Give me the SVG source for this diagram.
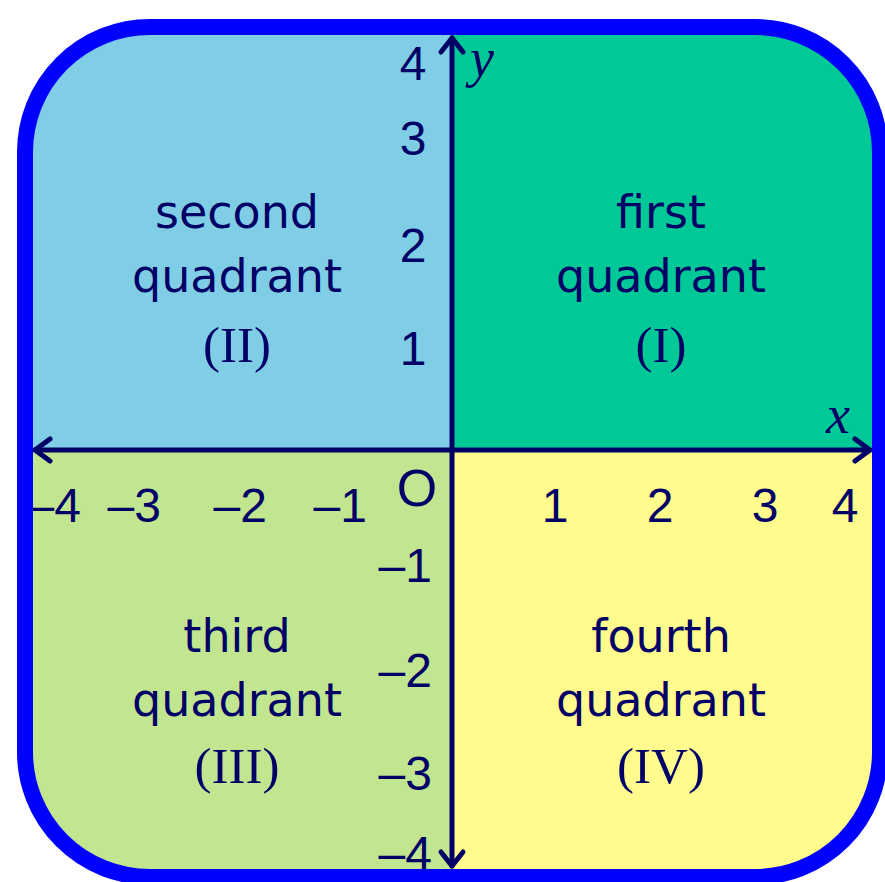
<svg xmlns="http://www.w3.org/2000/svg" width="885" height="882" viewBox="0 0 885 882">
<style>
.lbl{font-family:"DejaVu Sans","Liberation Sans",sans-serif;font-size:46px;fill:#000066;text-anchor:middle}
.rom{font-family:"Liberation Serif","Times New Roman",serif;font-size:51px;fill:#000066;text-anchor:middle}
.tk{font-family:"Liberation Sans",Arial,sans-serif;font-size:48px;fill:#000066}
.var{font-family:"Liberation Serif","Times New Roman",serif;font-style:italic;font-size:54px;fill:#000066}
.ax{stroke:#000066;stroke-width:5;fill:none;stroke-linecap:round;stroke-linejoin:round}
</style>
<defs>
<clipPath id="clip"><rect x="25" y="27" width="855" height="850" rx="125" ry="125"/></clipPath>
</defs>
<rect width="885" height="882" fill="#ffffff"/>
<g id="quadrants" clip-path="url(#clip)">
<rect x="0" y="0" width="452" height="450" fill="#7fcee5"/>
<rect x="452" y="0" width="433" height="450" fill="#00c896"/>
<rect x="0" y="450" width="452" height="432" fill="#c2e690"/>
<rect x="452" y="450" width="433" height="432" fill="#fffb8c"/>
<g id="ticks">
<text class="tk" x="413" y="80" text-anchor="middle">4</text>
<text class="tk" x="413" y="155" text-anchor="middle">3</text>
<text class="tk" x="413" y="262" text-anchor="middle">2</text>
<text class="tk" x="413" y="365" text-anchor="middle">1</text>
<text class="tk" x="432" y="582" text-anchor="end">–1</text>
<text class="tk" x="432" y="687" text-anchor="end">–2</text>
<text class="tk" x="432" y="790" text-anchor="end">–3</text>
<text class="tk" x="432" y="870" text-anchor="end">–4</text>
<text class="tk" x="81" y="522" text-anchor="end">–4</text>
<text class="tk" x="161" y="522" text-anchor="end">–3</text>
<text class="tk" x="267" y="522" text-anchor="end">–2</text>
<text class="tk" x="367" y="522" text-anchor="end">–1</text>
<text class="tk" x="555" y="522" text-anchor="middle">1</text>
<text class="tk" x="660" y="522" text-anchor="middle">2</text>
<text class="tk" x="765" y="522" text-anchor="middle">3</text>
<text class="tk" x="845" y="522" text-anchor="middle">4</text>
<text class="tk" x="417" y="506" text-anchor="middle" style="font-size:52px">O</text>
</g>
</g>
<g id="connectors">
<line class="ax" x1="452" y1="38" x2="452" y2="866"/>
<polyline class="ax" points="441,52 452,38 463,52"/>
<polyline class="ax" points="441,852 452,866 463,852"/>
<line class="ax" x1="35" y1="450" x2="870" y2="450"/>
<polyline class="ax" points="50,439 35,450 50,461"/>
<polyline class="ax" points="855,439 870,450 855,461"/>
</g>
<text class="var" x="470" y="76">y</text>
<text class="var" x="826" y="433">x</text>
<g id="q2">
<text class="lbl" x="237" y="228">second</text>
<text class="lbl" x="237" y="292">quadrant</text>
<text class="rom" x="237" y="362">(II)</text>
</g>
<g id="q1">
<text class="lbl" x="661" y="228">first</text>
<text class="lbl" x="661" y="292">quadrant</text>
<text class="rom" x="661" y="362">(I)</text>
</g>
<g id="q3">
<text class="lbl" x="237" y="652">third</text>
<text class="lbl" x="237" y="716">quadrant</text>
<text class="rom" x="237" y="783">(III)</text>
</g>
<g id="q4">
<text class="lbl" x="661" y="652">fourth</text>
<text class="lbl" x="661" y="716">quadrant</text>
<text class="rom" x="661" y="783">(IV)</text>
</g>
<rect id="border" x="25" y="27" width="855" height="850" rx="125" ry="125" fill="none" stroke="#0000ff" stroke-width="16"/>
</svg>
